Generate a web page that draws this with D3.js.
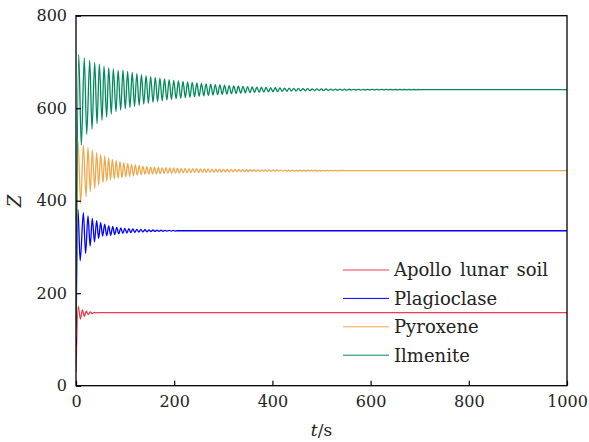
<!DOCTYPE html>
<html><head><meta charset="utf-8">
<script src="https://cdn.jsdelivr.net/npm/d3@7"></script>
<style>body{margin:0;background:#fff}svg{display:block}</style>
</head><body><svg id="c" width="589" height="442"></svg>
<script>
const seriesNames = ["Apollo lunar soil", "Plagioclase", "Pyroxene", "Ilmenite"];
const seriesColors = ["#ef3b4e", "#0000ff", "#efa94c", "#008a5a"];
const xTicks = [0, 200, 400, 600, 800, 1000];
const yTicks = [0, 200, 400, 600, 800];

// [t, Z] turning points
const apollo = [[0,30],[4.5,172],[9,144],[13,164],[17,150],[21,161],[25,154],[29,159.5],[33,156],[37,158.5],[41,157.3],[45,158.2],[49,157.8],[53,158],[1000,158]];

const plagioclase = [[0,88],[4,381],[8.5,270],[15,374],[19.5,286],[24.4,367],[28.8,302],[33.2,362],[37.6,311],[42,357],[46.1,318.6],[50.2,352.4],[54.3,323.7],[58.4,349.5],[62.5,324],[66.6,345.6],[70.7,325.3],[74.8,343.9],[78.9,326.8],[83,342.5],[87.1,328.1],[91.2,341.3],[95.3,329.2],[99.4,340.3],[103.5,330.1],[107.6,339.5],[111.7,330.9],[115.8,338.8],[119.9,331.5],[124,338.2],[128.1,332.1],[132.2,337.7],[136.3,332.5],[140.4,337.3],[144.5,332.9],[148.6,336.9],[152.7,333.25],[156.8,336.6],[160.9,333.5],[165,336.35],[169.1,333.75],[173.2,336.15],[177.3,333.95],[181.4,335.95],[185.5,334.1],[189.6,335.8],[193.7,334.25],[197.8,335.7],[201.9,334.4],[206,335],[1000,335]];

const pyroxene = [[0,106],[4.1,527.6],[9.5,394],[15,520],[20.4,408.6],[24.4,515.4],[29.2,419.5],[33.2,509.6],[38.1,426.8],[42,503.8],[46.2,434],[50.2,500],[55,439],[58.4,496.6],[62.5,442.5],[66.5,493],[70.3,445.5],[74,489.5],[78,447],[81.9,486.8],[85.8,448.6],[89.7,484.4],[93.6,450.1],[97.5,482.3],[101.4,451.5],[105.3,480.4],[109.2,452.8],[113.1,478.7],[117,454],[120.9,477.2],[124.8,455.1],[128.7,475.8],[132.6,456.1],[136.5,474.6],[140.4,457],[144.3,473.6],[148.2,457],[152.1,472.8],[156,457.4],[159.9,472.4],[163.8,457.8],[167.7,472],[171.6,458.2],[175.5,471.6],[179.4,458.55],[183.3,471.3],[187.2,458.9],[191.1,470.95],[195,459.2],[198.9,470.65],[202.8,459.5],[206.7,470.35],[210.6,459.8],[214.5,470.07],[218.4,460.06],[222.3,469.81],[226.2,460.32],[230.1,469.56],[234,460.56],[237.9,469.33],[241.8,460.79],[245.7,469.1],[249.6,461],[253.5,468.9],[257.4,461.2],[261.3,468.7],[265.2,461.4],[269.1,468.5],[273,461.59],[276.9,468.32],[280.8,461.76],[284.7,468.15],[288.6,461.93],[292.5,467.99],[296.4,462.09],[300.3,467.84],[304.2,462.23],[308.1,467.7],[312,462.37],[315.9,467.56],[319.8,462.51],[323.7,467.43],[327.6,462.64],[331.5,467.3],[335.4,462.76],[339.3,467.18],[343.2,462.87],[347.1,467.07],[351,462.98],[354.9,466.97],[358.8,463.08],[362.7,466.87],[366.6,463.18],[370.5,466.77],[374.4,463.28],[378.3,466.68],[382.2,463.36],[386.1,466.6],[390,463.45],[393.9,466.51],[397.8,463.53],[401.7,466.43],[405.6,463.6],[409.5,466.36],[413.4,463.68],[417.3,466.29],[421.2,463.74],[425.1,466.22],[429,463.81],[432.9,466.16],[436.8,463.87],[440.7,466.1],[444.6,463.93],[448.5,466.04],[452.4,463.98],[456.3,465.99],[460.2,464.04],[464.1,465.94],[468,464.09],[471.9,465.89],[475.8,464.13],[479.7,465.84],[483.6,464.18],[487.5,465.8],[491.4,464.22],[495.3,465.76],[499.2,464.26],[503.1,465.72],[507,464.3],[510.9,465.68],[514.8,464.34],[518.7,465.65],[522.6,464.37],[526.5,465.61],[530.4,464.4],[534.3,465.58],[538.2,464.43],[542.1,465.55],[546,465],[1000,465]];

const ilmenite = [[0,127],[5.5,716.5],[10.8,520],[16.9,709],[21.8,543.6],[27.9,703.5],[32.6,555],[38.1,699],[42.8,566.5],[47.5,695],[53,574],[57,691],[62.5,581],[66.6,687.5],[71.9,587],[76,685],[81.5,592.5],[85.8,682],[91,596],[95.7,682.5],[100.4,598.9],[105.1,679.8],[109.8,601.5],[114.5,677.2],[119.2,604],[123.9,674.8],[128.6,606.4],[133.3,672.5],[138,608.6],[142.7,670.4],[147.4,610.6],[152.1,668.4],[156.8,612.5],[161.5,666.6],[166.2,614.3],[170.9,664.9],[175.6,615.9],[180.3,663.3],[185,617.5],[189.7,661.8],[194.4,619],[199.1,660.3],[203.8,620.3],[208.5,659],[213.2,621.6],[217.9,657.8],[222.6,622.8],[227.3,656.6],[232,623.9],[236.7,655.6],[241.4,625],[246.1,654.5],[250.8,625.9],[255.5,653.6],[260.2,626.8],[264.9,652.7],[269.6,627.7],[274.3,651.9],[279,628.5],[283.7,651.1],[288.4,629.2],[293.1,650.4],[297.8,629.9],[302.5,649.7],[307.2,630.6],[311.9,649],[316.6,631.3],[321.3,648.4],[326,631.9],[330.7,647.8],[335.4,632.5],[340.1,647.2],[344.8,633.1],[349.5,646.7],[354.2,633.6],[358.9,646.2],[363.6,634],[368.3,645.7],[373,634.5],[377.7,645.3],[382.4,634.9],[387.1,644.9],[391.8,635.3],[396.5,644.6],[401.2,635.6],[405.9,644.2],[410.6,635.9],[415.3,643.9],[420,636.3],[424.7,643.6],[429.4,636.6],[434.1,643.2],[438.8,636.9],[443.5,643],[448.2,637.2],[452.9,642.7],[457.6,637.5],[462.3,642.5],[467,637.7],[471.7,642.2],[476.4,637.9],[481.1,642],[485.8,638.1],[490.5,641.8],[495.2,638.3],[499.9,641.7],[504.6,638.4],[509.3,641.5],[514,638.6],[518.7,641.4],[523.4,638.7],[528.1,641.3],[532.8,638.8],[537.5,641.2],[542.2,638.9],[546.9,641.1],[551.6,639],[556.3,641],[561,639.1],[565.7,640.9],[570.4,639.2],[575.1,640.8],[579.8,639.2],[584.5,640.7],[589.2,639.3],[593.9,640.7],[598.6,639.4],[603.3,640.6],[608,639.45],[612.7,640.55],[617.4,639.5],[622.1,640.5],[626.8,639.5],[631.5,640.5],[636.2,639.52],[640.9,640.48],[645.6,639.53],[650.3,640.47],[655,639.55],[659.7,640.45],[664.4,639.56],[669.1,640.44],[673.8,639.58],[678.5,640.42],[683.2,639.6],[687.9,640.4],[692.6,639.62],[697.3,640.38],[702,640],[1000,640]];

const allSeries = [apollo, plagioclase, pyroxene, ilmenite];

const svg = d3.select("#c");
const L = 76, R = 567, T = 15.7, B = 385.7;
const x = d3.scaleLinear().domain([0, 1000]).range([L, R]);
const y = d3.scaleLinear().domain([0, 800]).range([B, T]);
const font = "'DejaVu Serif', serif";

// lines
const line = d3.line().x(d => x(d[0])).y(d => y(d[1])).curve(d3.curveMonotoneX);
svg.append("defs").append("clipPath").attr("id", "clip")
  .append("rect").attr("x", L).attr("y", T).attr("width", R - L).attr("height", B - T);
const g = svg.append("g").attr("clip-path", "url(#clip)");
allSeries.forEach((s, i) => {
  g.append("path").datum(s).attr("d", line)
    .attr("fill", "none").attr("stroke", seriesColors[i]).attr("stroke-width", 1.3);
});

// axes
const fmt = d3.format("d");
const xAxis = d3.axisBottom(x).tickValues(xTicks).tickFormat(fmt).tickSizeInner(-5).tickSizeOuter(0).tickPadding(10);
const yAxis = d3.axisLeft(y).tickValues(yTicks).tickFormat(fmt).tickSizeInner(-5).tickSizeOuter(0).tickPadding(9);
const gx = svg.append("g").attr("transform", `translate(0,${B})`).call(xAxis);
const gy = svg.append("g").attr("transform", `translate(${L},0)`).call(yAxis);
[gx, gy].forEach(a => {
  a.select(".domain").remove();
  a.selectAll(".tick line").attr("stroke", "#000").attr("stroke-width", 1.2);
  a.selectAll(".tick text").attr("font-family", font).attr("font-size", 16).attr("fill", "#222");
});
svg.append("rect").attr("x", L).attr("y", T).attr("width", R - L).attr("height", B - T)
  .attr("fill", "none").attr("stroke", "#000").attr("stroke-width", 1.3);

// axis titles
const xt = svg.append("text").attr("x", (L + R) / 2).attr("y", 436).attr("text-anchor", "middle")
  .attr("font-family", font).attr("font-size", 17).attr("fill", "#222");
xt.append("tspan").attr("font-style", "italic").text("t");
xt.append("tspan").text("/s");
svg.append("text").attr("transform", `translate(21,201) rotate(-90)`).attr("text-anchor", "middle")
  .attr("font-family", font).attr("font-size", 18).attr("font-style", "italic").attr("fill", "#222").text("Z");

// legend
const leg = svg.append("g");
seriesNames.forEach((n, i) => {
  const yy = 270 + i * 28.4;
  leg.append("line").attr("x1", 343).attr("x2", 389).attr("y1", yy).attr("y2", yy)
    .attr("stroke", seriesColors[i]).attr("stroke-width", 1);
  leg.append("text").attr("x", 394).attr("y", yy).attr("dy", "0.36em")
    .attr("font-family", font).attr("font-size", 18).attr("word-spacing", 2.5)
    .attr("fill", "#222").text(n);
});
</script></body></html>
